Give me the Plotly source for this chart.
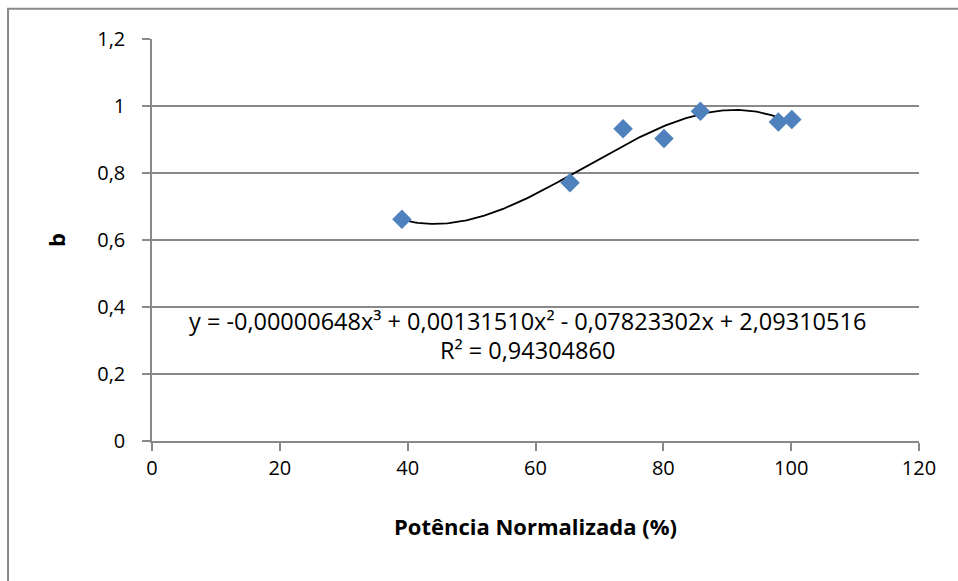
import numpy as np
import plotly.graph_objects as go

# Data
potencia = [39.1, 65.4, 73.7, 80.1, 85.8, 98.0, 100.1]
b_values = [0.662, 0.771, 0.932, 0.903, 0.984, 0.952, 0.960]

x_title = "Potência Normalizada (%)"
y_title = "b"
eq_text = "y = -0,00000648x³ + 0,00131510x² - 0,07823302x + 2,09310516"
r2_text = "R² = 0,94304860"

FONT = "Open Sans"
GRAY = "#898989"

coef = np.polyfit(potencia, b_values, 3)
xs = np.linspace(min(potencia), max(potencia), 200)
ys = np.polyval(coef, xs)

fig = go.Figure()
fig.add_trace(go.Scatter(x=xs, y=ys, mode="lines",
                         line=dict(color="black", width=1.8), hoverinfo="skip"))
fig.add_trace(go.Scatter(x=potencia, y=b_values, mode="markers",
                         marker=dict(symbol="diamond", size=15, color="#4F81BD",
                                     line=dict(width=0))))

fig.add_annotation(x=58.7, y=0.357, text=eq_text, showarrow=False,
                   font=dict(family=FONT, size=23.5, color="black"))
fig.add_annotation(x=58.7, y=0.272, text=r2_text, showarrow=False,
                   font=dict(family=FONT, size=23.5, color="black"))

fig.add_shape(type="rect", xref="paper", yref="paper",
              x0=-0.1877, y0=-0.5, x1=1.2, y1=1.075,
              line=dict(color=GRAY, width=2), fillcolor="rgba(0,0,0,0)", layer="below")

fig.update_layout(
    width=958, height=581,
    margin=dict(l=152, r=39, t=39, b=140),
    paper_bgcolor="white", plot_bgcolor="white",
    showlegend=False,
    separators=", ",
    font=dict(family=FONT, size=20, color="black"),
    xaxis=dict(range=[0, 120], dtick=20, tick0=0, showgrid=False,
               showline=True, linecolor=GRAY, linewidth=1.5,
               ticks="outside", ticklen=8, tickcolor=GRAY, tickwidth=1.5,
               ticklabelstandoff=0, zeroline=False,
               title=dict(text="<b>" + x_title + "</b>", standoff=40,
                          font=dict(family=FONT, size=22))),
    yaxis=dict(range=[0, 1.2], dtick=0.2, tick0=0, showgrid=True,
               gridcolor=GRAY, gridwidth=1.5,
               showline=True, linecolor=GRAY, linewidth=1.5,
               ticks="outside", ticklen=8, tickcolor=GRAY, tickwidth=1.5,
               ticklabelstandoff=13, zeroline=False,
               title=dict(text="<b>" + y_title + "</b>", standoff=26,
                          font=dict(family=FONT, size=22))),
)

fig.write_html("out.html")
